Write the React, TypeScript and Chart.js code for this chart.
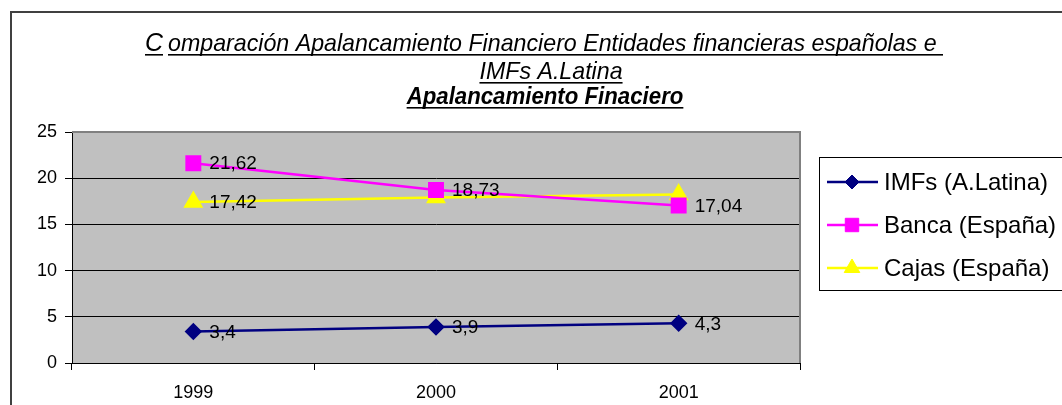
import { useEffect, useRef } from "react";
import { Chart, registerables } from "chart.js";

Chart.register(...registerables);

const YEARS = ["1999", "2000", "2001"];
const IMFS = [3.4, 3.9, 4.3];
const BANCA = [21.62, 18.73, 17.04];
const CAJAS = [17.42, 17.9, 18.23];
const IMFS_LABELS = ["3,4", "3,9", "4,3"];
const BANCA_LABELS = ["21,62", "18,73", "17,04"];
const CAJAS_LABELS = ["17,42", null, null];
const SERIES_NAMES = ["IMFs (A.Latina)", "Banca (España)", "Cajas (España)"];
const Y_MIN = 0;
const Y_MAX = 25;
const Y_STEP = 5;
const TITLE_FIRST = "C";
const TITLE_LINE1 = "omparación Apalancamiento Financiero Entidades financieras españolas e ";
const TITLE_LINE2 = "IMFs A.Latina";
const TITLE_LINE3 = "Apalancamiento Finaciero";

const FONT = '"Liberation Sans", Arial, sans-serif';
const ALL_LABELS = [IMFS_LABELS, BANCA_LABELS, CAJAS_LABELS];

function drawMarker(ctx: CanvasRenderingContext2D, style: string, x: number, y: number, r: number, color: string) {
  ctx.save();
  ctx.fillStyle = color;
  ctx.strokeStyle = color;
  ctx.lineWidth = 1;
  ctx.beginPath();
  if (style === "rectRot") {
    ctx.moveTo(x - r, y);
    ctx.lineTo(x, y - r);
    ctx.lineTo(x + r, y);
    ctx.lineTo(x, y + r);
    ctx.closePath();
  } else if (style === "rect") {
    const s = r * Math.SQRT1_2;
    ctx.rect(x - s, y - s, 2 * s, 2 * s);
  } else {
    const a = (2 * Math.PI) / 3;
    ctx.moveTo(x, y - r);
    ctx.lineTo(x + Math.sin(a) * r, y - Math.cos(a) * r);
    ctx.lineTo(x - Math.sin(a) * r, y - Math.cos(a) * r);
    ctx.closePath();
  }
  ctx.fill();
  ctx.stroke();
  ctx.restore();
}

const plotPlugin = {
  id: "plotBg",
  beforeDraw(chart: any) {
    const { ctx, chartArea: a } = chart;
    ctx.save();
    ctx.fillStyle = "#ffffff";
    ctx.fillRect(0, 0, chart.width, chart.height);
    ctx.fillStyle = "#C0C0C0";
    ctx.fillRect(a.left, a.top, a.right - a.left, a.bottom - a.top);
    ctx.restore();
  },
  beforeDatasetsDraw(chart: any) {
    const { ctx, chartArea: a } = chart;
    ctx.save();
    ctx.strokeStyle = "#808080";
    ctx.lineWidth = 2;
    ctx.beginPath();
    ctx.moveTo(a.left, a.top);
    ctx.lineTo(a.right, a.top);
    ctx.lineTo(a.right, a.bottom);
    ctx.stroke();
    ctx.restore();
  },
};

const labelsPlugin = {
  id: "dataLabels",
  afterDatasetsDraw(chart: any) {
    const { ctx } = chart;
    ctx.save();
    ctx.font = `19px ${FONT}`;
    ctx.fillStyle = "#000";
    ctx.textAlign = "left";
    ctx.textBaseline = "middle";
    chart.data.datasets.forEach((_: any, i: number) => {
      const meta = chart.getDatasetMeta(i);
      meta.data.forEach((pt: any, j: number) => {
        const lbl = ALL_LABELS[i][j];
        if (lbl) ctx.fillText(lbl, pt.x + 16, pt.y + 1);
      });
    });
    ctx.restore();
  },
};

function drawTitleText(ctx: CanvasRenderingContext2D, text: string, x: number, base: number, sx: number) {
  ctx.save();
  ctx.translate(x, base);
  ctx.scale(sx, 1);
  ctx.fillText(text, 0, 0);
  const w = ctx.measureText(text).width;
  ctx.fillRect(0, 3, w, 1.6);
  ctx.restore();
}

const framePlugin = {
  id: "frameTitle",
  afterDraw(chart: any) {
    const { ctx } = chart;
    ctx.save();
    ctx.strokeStyle = "#404040";
    ctx.lineWidth = 2;
    ctx.beginPath();
    ctx.moveTo(11, chart.height + 2);
    ctx.lineTo(11, 12);
    ctx.lineTo(chart.width + 2, 12);
    ctx.stroke();

    ctx.fillStyle = "#000";
    ctx.textBaseline = "alphabetic";
    ctx.textAlign = "left";
    // Line 1
    ctx.font = `italic 24px ${FONT}`;
    const w1 = ctx.measureText(TITLE_LINE1).width;
    const sx = (943 - 168) / w1;
    ctx.font = `italic 25px ${FONT}`;
    const wc = ctx.measureText(TITLE_FIRST).width;
    drawTitleText(ctx, TITLE_FIRST, 145, 51, 18 / wc);
    ctx.font = `italic 24px ${FONT}`;
    drawTitleText(ctx, TITLE_LINE1, 168, 51, sx);
    // Line 2
    const w2 = ctx.measureText(TITLE_LINE2).width * sx;
    drawTitleText(ctx, TITLE_LINE2, 551 - w2 / 2, 79, sx);
    // Line 3
    ctx.font = `italic bold 23px ${FONT}`;
    const w3 = ctx.measureText(TITLE_LINE3).width * sx;
    drawTitleText(ctx, TITLE_LINE3, 545 - w3 / 2, 104, sx);

    // Legend
    ctx.strokeStyle = "#000";
    ctx.lineWidth = 1;
    ctx.strokeRect(819.5, 157.5, 260, 133);
    ctx.font = `24px ${FONT}`;
    ctx.textBaseline = "middle";
    chart.data.datasets.forEach((ds: any, i: number) => {
      const y = 182 + i * 43;
      ctx.strokeStyle = ds.borderColor;
      ctx.lineWidth = ds.borderWidth;
      ctx.beginPath();
      ctx.moveTo(827, y);
      ctx.lineTo(878, y);
      ctx.stroke();
      drawMarker(ctx, ds.pointStyle, 852, y, ds.pointRadius, ds.backgroundColor);
      ctx.fillStyle = "#000";
      ctx.fillText(SERIES_NAMES[i], 884, y + 1);
    });
    ctx.restore();
  },
};

export default function App() {
  const ref = useRef<HTMLCanvasElement | null>(null);
  useEffect(() => {
    document.body.style.margin = "0";
    const canvas = ref.current;
    if (!canvas) return;
    const chart = new Chart(canvas, {
      type: "line",
      data: {
        labels: YEARS,
        datasets: [
          {
            label: SERIES_NAMES[0],
            data: IMFS,
            borderColor: "#000080",
            backgroundColor: "#000080",
            borderWidth: 2.5,
            pointStyle: "rectRot",
            pointRadius: 7,
            pointHoverRadius: 7,
            tension: 0,
          },
          {
            label: SERIES_NAMES[1],
            data: BANCA,
            borderColor: "#FF00FF",
            backgroundColor: "#FF00FF",
            borderWidth: 2.5,
            pointStyle: "rect",
            pointRadius: 9.5,
            pointHoverRadius: 9.5,
            tension: 0,
          },
          {
            label: SERIES_NAMES[2],
            data: CAJAS,
            borderColor: "#FFFF00",
            backgroundColor: "#FFFF00",
            borderWidth: 2.5,
            pointStyle: "triangle",
            pointRadius: 9,
            pointHoverRadius: 9,
            tension: 0,
          },
        ],
      },
      options: {
        animation: false,
        responsive: false,
        maintainAspectRatio: false,
        events: [],
        layout: { padding: { left: 12, top: 132, right: 262, bottom: 0 } },
        plugins: {
          legend: { display: false },
          title: { display: false },
          tooltip: { enabled: false },
        },
        scales: {
          x: {
            type: "category",
            offset: true,
            afterFit: (s: any) => {
              s.height = 42;
            },
            grid: {
              offset: true,
              drawOnChartArea: false,
              drawTicks: true,
              tickLength: 7,
              color: "#000",
            },
            border: { display: true, color: "#000", width: 1 },
            ticks: {
              color: "#000",
              font: { family: FONT, size: 18 },
              padding: 12,
              maxRotation: 0,
            },
          },
          y: {
            min: Y_MIN,
            max: Y_MAX,
            afterFit: (s: any) => {
              s.width = 60;
            },
            grid: {
              color: (c: any) => (c.tick && c.tick.value === Y_MAX ? "#808080" : "#000"),
              tickColor: "#000",
              tickLength: 7,
              lineWidth: 1,
            },
            border: { display: true, color: "#000", width: 1 },
            ticks: {
              stepSize: Y_STEP,
              color: "#000",
              font: { family: FONT, size: 18 },
              padding: 8,
            },
          },
        },
      },
      plugins: [plotPlugin, labelsPlugin, framePlugin],
    });
    return () => chart.destroy();
  }, []);
  return (
    <div style={{ width: 1062, height: 405 }}>
      <canvas ref={ref} width={1062} height={405} style={{ display: "block", width: 1062, height: 405 }} />
    </div>
  );
}
